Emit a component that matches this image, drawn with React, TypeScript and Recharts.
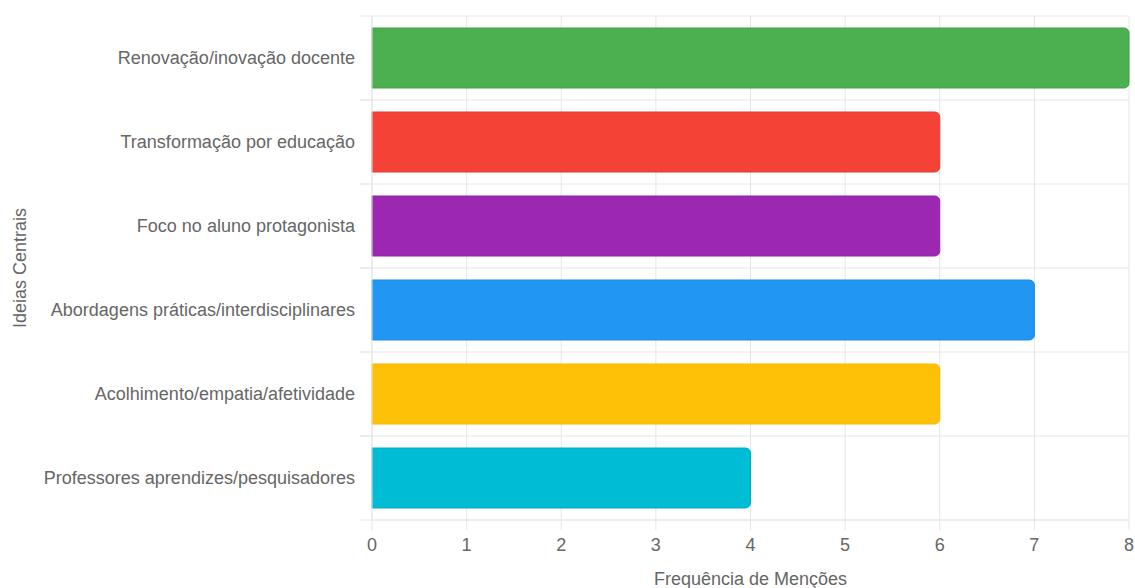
import { BarChart, Bar, XAxis, YAxis, CartesianGrid, Cell } from "recharts";

// Ideias centrais e frequência de menções
const categorias = [
  "Renovação/inovação docente",
  "Transformação por educação",
  "Foco no aluno protagonista",
  "Abordagens práticas/interdisciplinares",
  "Acolhimento/empatia/afetividade",
  "Professores aprendizes/pesquisadores",
];
const mencoes = [8, 6, 6, 7, 6, 4];
const cores = ["#4CAF50", "#F44336", "#9C27B0", "#2196F3", "#FFC107", "#00BCD4"];
const bordas = ["#43a047", "#e53935", "#8e24aa", "#1e88e5", "#ffb300", "#00acc1"];
const ticksX = [0, 1, 2, 3, 4, 5, 6, 7, 8];

const data = categorias.map((nome, i) => ({ nome, valor: mencoes[i] }));

const GRID = "#e6e6e6";
const TEXT = "#666";
const FONT = "Liberation Sans, Arial, sans-serif";

function CategoryTick(props: any) {
  const { x, y, payload } = props;
  const half = payload.offset || 0;
  return (
    <g>
      <line x1={x + 5} x2={x + 17} y1={y - half} y2={y - half} stroke={GRID} />
      <line x1={x + 5} x2={x + 17} y1={y + half} y2={y + half} stroke={GRID} />
      <text x={x} y={y} dy="0.35em" textAnchor="end" fill={TEXT} fontSize={18} fontFamily={FONT}>
        {payload.value}
      </text>
    </g>
  );
}

export default function App() {
  return (
    <div style={{ position: "absolute", left: 0, top: 0 }}>
      <BarChart
        width={1135}
        height={588}
        data={data}
        layout="vertical"
        margin={{ top: 16, right: 6, bottom: 0, left: 0 }}
      >
        <CartesianGrid
          stroke={GRID}
          vertical
          horizontalCoordinatesGenerator={({ offset }: any) =>
            categorias.map((_, i) => offset.top + (i * offset.height) / categorias.length).concat(offset.top + offset.height)
          }
        />
        <XAxis
          type="number"
          domain={[0, 8]}
          ticks={ticksX}
          interval={0}
          height={68}
          axisLine={{ stroke: GRID }}
          tickLine={{ stroke: GRID }}
          tickSize={10}
          tickMargin={8}
          tick={{ fill: TEXT, fontSize: 18, fontFamily: FONT }}
          label={{
            value: "Frequência de Menções",
            position: "insideBottom",
            offset: 3,
            fill: TEXT,
            fontSize: 18,
            fontFamily: FONT,
          }}
        />
        <YAxis
          type="category"
          dataKey="nome"
          width={372}
          axisLine={{ stroke: GRID }}
          tickLine={false}
          tickSize={12}
          tickMargin={5}
          interval={0}
          tick={<CategoryTick />}
          label={{
            value: "Ideias Centrais",
            angle: -90,
            position: "insideLeft",
            offset: 20,
            fill: TEXT,
            fontSize: 18,
            fontFamily: FONT,
            style: { textAnchor: "middle" },
          }}
        />
        <Bar dataKey="valor" barSize={60} radius={[0, 5, 5, 0]} isAnimationActive={false}>
          {data.map((d, i) => (
            <Cell key={d.nome} fill={cores[i]} stroke={bordas[i]} strokeWidth={1} />
          ))}
        </Bar>
      </BarChart>
    </div>
  );
}
